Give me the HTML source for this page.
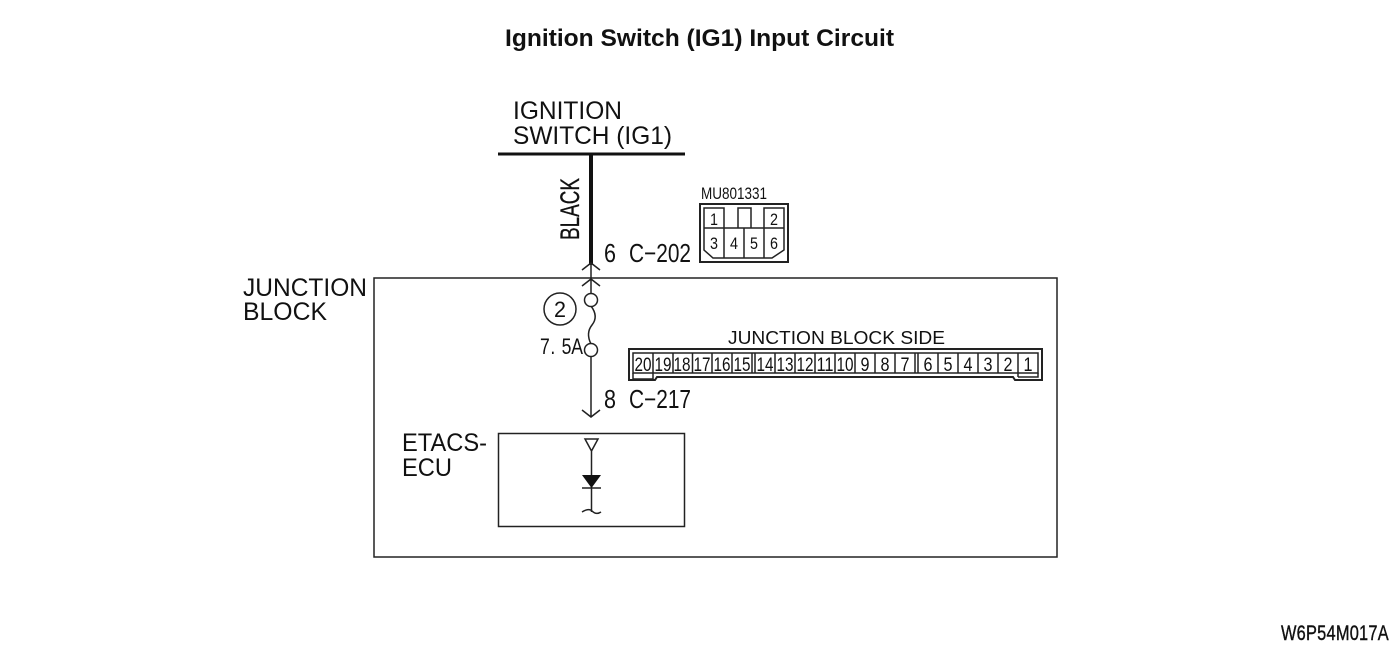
<!DOCTYPE html>
<html><head><meta charset="utf-8"><style>
html,body{margin:0;padding:0;background:#fff}
svg{display:block}
text{font-family:"Liberation Sans",sans-serif;fill:#111}
.l{font-size:25px}
.n{font-size:26px}
</style></head><body>
<svg width="1400" height="652" viewBox="0 0 1400 652" xmlns="http://www.w3.org/2000/svg">
<rect width="1400" height="652" fill="#fff"/>
<text x="505" y="46" font-size="24" font-weight="bold" textLength="389" lengthAdjust="spacingAndGlyphs">Ignition Switch (IG1) Input Circuit</text>
<text class="l" x="513" y="119" textLength="109" lengthAdjust="spacingAndGlyphs">IGNITION</text>
<text class="l" x="513" y="144" textLength="159" lengthAdjust="spacingAndGlyphs">SWITCH (IG1)</text>
<text class="l" x="243" y="296" textLength="124" lengthAdjust="spacingAndGlyphs">JUNCTION</text>
<text class="l" x="243" y="320" textLength="84" lengthAdjust="spacingAndGlyphs">BLOCK</text>
<text class="l" x="402" y="451" textLength="85" lengthAdjust="spacingAndGlyphs">ETACS-</text>
<text class="l" x="402" y="476" textLength="50" lengthAdjust="spacingAndGlyphs">ECU</text>
<text transform="translate(579,240) rotate(-90)" x="0" y="0" font-size="27" textLength="62" lengthAdjust="spacingAndGlyphs" style="stroke:#111;stroke-width:.3">BLACK</text>
<text class="n" x="604" y="262" textLength="12" lengthAdjust="spacingAndGlyphs">6</text>
<text class="n" x="629" y="262" textLength="62" lengthAdjust="spacingAndGlyphs">C−202</text>
<text class="n" x="604" y="408" textLength="12" lengthAdjust="spacingAndGlyphs">8</text>
<text class="n" x="629" y="408" textLength="62" lengthAdjust="spacingAndGlyphs">C−217</text>
<text transform="translate(540,354) scale(.8,1)" x="0 13 27 39" y="0" font-size="22">7.5A</text>
<text x="701" y="199" font-size="17" textLength="66" lengthAdjust="spacingAndGlyphs">MU801331</text>
<text x="728" y="344" font-size="18" textLength="217" lengthAdjust="spacingAndGlyphs">JUNCTION BLOCK SIDE</text>
<text transform="translate(1281,640) scale(.78,1)" x="0" y="0" font-size="21" textLength="138" lengthAdjust="spacing" style="stroke:#111;stroke-width:.4">W6P54M017A</text>

<g fill="none" stroke="#222" stroke-width="1.5">
<rect x="374" y="278" width="683" height="279"/>
<rect x="498.500" y="433.500" width="186" height="93"/>
<path d="M498 154H685" stroke="#111" stroke-width="3"/>
<path d="M591 154V265" stroke="#111" stroke-width="4"/>
<path d="M582 270L591 263L600 270M582 286L591 279L600 286M591 263V294"/>
<path d="M591 306C597 314 596 320 592 325C588 330 587 336 591 344"/>
<circle cx="591" cy="300" r="6.500" fill="#fff"/>
<circle cx="591" cy="350" r="6.500" fill="#fff"/>
<path d="M591 356V417M582 410L591 417L600 410"/>
<circle cx="560" cy="309" r="16"/>
<path d="M585 439H598L591.500 451ZM591.500 451V512M582 488H601"/>
<path d="M582 512C587 509 590 509 592 511C595 514 598 514 601 512"/>

<path d="M700 204H788V262H700Z" stroke-width="2"/>
<path d="M704 228V208H724V228M738 228V208H751V228M764 228V208H784V228M704 228H784V250L772 258H713L704 250ZM724 228V258M744 228V258M764 228V258"/>

<path d="M629 349H1042V380H1015L1013 377H657L655 380H629Z" stroke-width="2"/>
<path d="M633 353H1038V373H633Z"/>
<path d="M633 373V379M653 353V379M633 379H653M1018 353V377M1018 377H1038V373"/>
<path d="M673 353V373M692.500 353V373M712 353V373M732 353V373M752 353V373M755 353V373M775 353V373M795 353V373M815 353V373M835 353V373M855 353V373M875 353V373M895 353V373M915 353V373M918 353V373M938 353V373M958 353V373M978 353V373M998 353V373"/>
</g>
<path d="M582 475H601L591.500 488Z" fill="#111"/>
<text x="560" y="317" font-size="22" text-anchor="middle" textLength="12" lengthAdjust="spacingAndGlyphs">2</text>
<g style="font-size:17px;text-anchor:middle">
<text x="714" y="225" textLength="8" lengthAdjust="spacingAndGlyphs">1</text><text x="774" y="225" textLength="8" lengthAdjust="spacingAndGlyphs">2</text>
<text x="714" y="249" textLength="8" lengthAdjust="spacingAndGlyphs">3</text><text x="734" y="249" textLength="8" lengthAdjust="spacingAndGlyphs">4</text><text x="754" y="249" textLength="8" lengthAdjust="spacingAndGlyphs">5</text><text x="774" y="249" textLength="8" lengthAdjust="spacingAndGlyphs">6</text>
</g>
<g style="font-size:19px;text-anchor:middle">
<text x="643" y="371" textLength="17" lengthAdjust="spacingAndGlyphs">20</text>
<text x="663" y="371" textLength="17" lengthAdjust="spacingAndGlyphs">19</text>
<text x="682" y="371" textLength="17" lengthAdjust="spacingAndGlyphs">18</text>
<text x="702" y="371" textLength="17" lengthAdjust="spacingAndGlyphs">17</text>
<text x="722" y="371" textLength="17" lengthAdjust="spacingAndGlyphs">16</text>
<text x="742" y="371" textLength="17" lengthAdjust="spacingAndGlyphs">15</text>
<text x="765" y="371" textLength="17" lengthAdjust="spacingAndGlyphs">14</text>
<text x="785" y="371" textLength="17" lengthAdjust="spacingAndGlyphs">13</text>
<text x="805" y="371" textLength="17" lengthAdjust="spacingAndGlyphs">12</text>
<text x="825" y="371" textLength="17" lengthAdjust="spacingAndGlyphs">11</text>
<text x="845" y="371" textLength="17" lengthAdjust="spacingAndGlyphs">10</text>
<text x="865" y="371" textLength="9" lengthAdjust="spacingAndGlyphs">9</text><text x="885" y="371" textLength="9" lengthAdjust="spacingAndGlyphs">8</text><text x="905" y="371" textLength="9" lengthAdjust="spacingAndGlyphs">7</text>
<text x="928" y="371" textLength="9" lengthAdjust="spacingAndGlyphs">6</text><text x="948" y="371" textLength="9" lengthAdjust="spacingAndGlyphs">5</text><text x="968" y="371" textLength="9" lengthAdjust="spacingAndGlyphs">4</text><text x="988" y="371" textLength="9" lengthAdjust="spacingAndGlyphs">3</text><text x="1008" y="371" textLength="9" lengthAdjust="spacingAndGlyphs">2</text><text x="1028" y="371" textLength="9" lengthAdjust="spacingAndGlyphs">1</text>
</g>
</svg>
</body></html>
